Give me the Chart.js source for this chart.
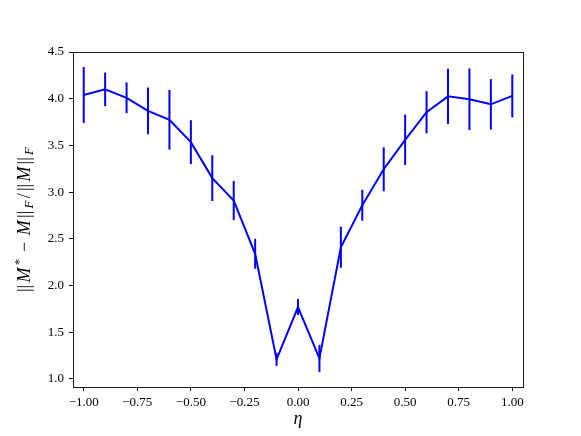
<!DOCTYPE html>
<html>
<head>
<meta charset="utf-8">
<script src="https://cdn.jsdelivr.net/npm/chart.js@4/dist/chart.umd.min.js"></script>
<style>
    html, body { margin: 0; padding: 0; background: #fff; }
    #wrap { width: 581px; height: 436px; }
</style>
</head>
<body>
<div id="wrap"><canvas id="eta-chart" width="581" height="436"></canvas></div>
<script>
'use strict';

// eta values on the x axis
const etas = [-1.0, -0.9, -0.8, -0.7, -0.6, -0.5, -0.4, -0.3, -0.2, -0.1, 0.0,
    0.1, 0.2, 0.3, 0.4, 0.5, 0.6, 0.7, 0.8, 0.9, 1.0];
// mean relative error
const relErr = [4.04, 4.10, 4.01, 3.87, 3.775, 3.535, 3.15, 2.91, 2.34, 1.21, 1.77,
    1.22, 2.41, 2.86, 3.245, 3.56, 3.855, 4.025, 3.995, 3.94, 4.03];
// half length of each error bar
const relErrStd = [0.30, 0.18, 0.165, 0.25, 0.32, 0.235, 0.245, 0.21, 0.16, 0.07, 0.085,
    0.145, 0.22, 0.165, 0.235, 0.27, 0.225, 0.295, 0.33, 0.27, 0.23];

const xTicks = [-1.0, -0.75, -0.5, -0.25, 0.0, 0.25, 0.5, 0.75, 1.0];
const yTicks = [1.0, 1.5, 2.0, 2.5, 3.0, 3.5, 4.0, 4.5];

const SERIF = '"Liberation Serif", "DejaVu Serif", serif';
const BLUE = '#0000ff';

function fmt(v, digits) {
    const s = Math.abs(v).toFixed(digits);
    return v < -1e-9 ? '\u2212' + s : s;
}

const errorBarPlugin = {
    id: 'error_bars',
    afterDatasetsDraw: (chart) => {
        const ctx = chart.ctx;
        const x = chart.scales.x;
        const y = chart.scales.y;
        ctx.save();
        ctx.strokeStyle = BLUE;
        ctx.lineWidth = 2;
        for (let i = 0; i < etas.length; i++) {
            const px = x.getPixelForValue(etas[i]);
            ctx.beginPath();
            ctx.moveTo(px, y.getPixelForValue(relErr[i] - relErrStd[i]));
            ctx.lineTo(px, y.getPixelForValue(relErr[i] + relErrStd[i]));
            ctx.stroke();
        }
        ctx.restore();
    }
};

const framePlugin = {
    id: 'frame_and_labels',
    afterDraw: (chart) => {
        const ctx = chart.ctx;
        const {top, left, right, bottom} = chart.chartArea;
        ctx.save();
        ctx.strokeStyle = '#1a1a1a';
        ctx.lineWidth = 1;
        ctx.strokeRect(Math.round(left) + 0.5, Math.round(top) + 0.5,
            Math.round(right - left), Math.round(bottom - top));

        // x label
        ctx.fillStyle = '#000';
        ctx.font = 'italic 18px ' + SERIF;
        ctx.textAlign = 'center';
        ctx.textBaseline = 'alphabetic';
        ctx.fillText('\u03b7', (left + right) / 2, 424);

        // y label, drawn piece by piece for the sub/superscripts
        const parts = [
            {t: '||'}, {t: 'M', it: true}, {t: '*', sup: true}, {t: ' \u2212 '},
            {t: 'M', it: true}, {t: '||'}, {t: 'F', it: true, sub: true},
            {t: '/'}, {t: '||'}, {t: 'M', it: true}, {t: '||'},
            {t: 'F', it: true, sub: true}
        ];
        const fontFor = (p) => (p.it ? 'italic ' : '') + ((p.sub || p.sup) ? 13 : 18) + 'px ' + SERIF;
        let total = 0;
        parts.forEach(p => {
            ctx.font = fontFor(p);
            p.w = ctx.measureText(p.t).width;
            total += p.w;
        });
        const span = 145;
        const gap = Math.max(0, (span - total) / (parts.length - 1));
        ctx.translate(30, (top + bottom) / 2);
        ctx.rotate(-Math.PI / 2);
        ctx.textAlign = 'left';
        let cx = -span / 2;
        parts.forEach(p => {
            ctx.font = fontFor(p);
            const dy = p.sub ? 3 : (p.sup ? -7 : 0);
            ctx.fillText(p.t, cx, dy);
            cx += p.w + gap;
        });
        ctx.restore();
    }
};

const ctx = document.getElementById('eta-chart');
const etaChart = new Chart(ctx, {
    type: 'line',
    data: {
        datasets: [{
            data: etas.map((e, i) => ({x: e, y: relErr[i]})),
            borderColor: BLUE,
            borderWidth: 2,
            pointRadius: 0,
            fill: false,
            tension: 0
        }]
    },
    options: {
        responsive: false,
        animation: false,
        layout: {padding: {top: 52, right: 58, left: 0, bottom: 0}},
        plugins: {
            legend: {display: false},
            tooltip: {enabled: false}
        },
        scales: {
            x: {
                type: 'linear',
                min: -1.05,
                max: 1.05,
                afterBuildTicks: (scale) => { scale.ticks = xTicks.map(v => ({value: v})); },
                afterFit: (scale) => { scale.height = 49; },
                grid: {drawOnChartArea: false, drawTicks: true, tickLength: 4, color: '#000'},
                border: {display: true, color: '#1a1a1a', width: 1},
                ticks: {
                    color: '#000',
                    padding: 4,
                    maxRotation: 0,
                    autoSkip: false,
                    font: {family: SERIF, size: 13},
                    callback: (v) => fmt(v, 2)
                }
            },
            y: {
                min: 0.914,
                max: 4.5,
                afterBuildTicks: (scale) => { scale.ticks = yTicks.map(v => ({value: v})); },
                afterFit: (scale) => { scale.width = 73; },
                grid: {drawOnChartArea: false, drawTicks: true, tickLength: 4, color: '#000'},
                border: {display: true, color: '#1a1a1a', width: 1},
                ticks: {
                    color: '#000',
                    padding: 5,
                    autoSkip: false,
                    font: {family: SERIF, size: 13},
                    callback: (v) => fmt(v, 1)
                }
            }
        }
    },
    plugins: [errorBarPlugin, framePlugin]
});
</script>
</body>
</html>
